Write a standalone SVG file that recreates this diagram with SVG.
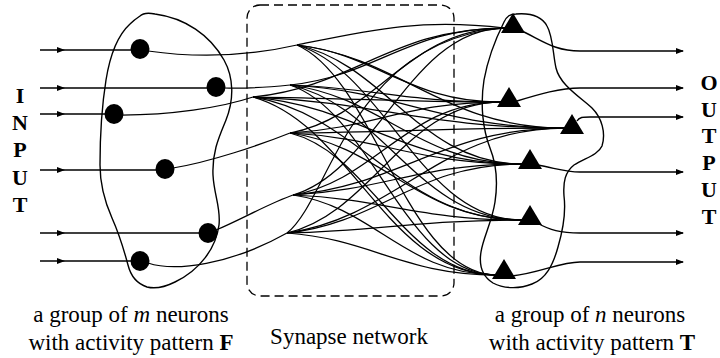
<svg xmlns="http://www.w3.org/2000/svg" width="720" height="358" viewBox="0 0 720 358">
  <defs>
    <marker id="arrow" markerWidth="8" markerHeight="6" refX="7" refY="3" orient="auto" markerUnits="userSpaceOnUse">
      <path d="M0,0 L8,3 L0,6 Z" fill="#000"/>
    </marker>
    <style>
      .ln { fill: none; stroke: #000; stroke-width: 1.4; }
      .syn path { fill: none; stroke: #000; stroke-width: 1.25; }
      .blob { fill: none; stroke: #000; stroke-width: 1.4; }
      .box { fill: none; stroke: #000; stroke-width: 1.3; stroke-dasharray: 9 5; }
      .neuron { fill: #000; }
      .letter { font-family: "Liberation Serif", "Times New Roman", serif; font-weight: bold; font-size: 22px; text-anchor: middle; }
      .label { font-family: "Liberation Serif", "Times New Roman", serif; font-size: 23px; text-anchor: middle; }
    </style>
  </defs>

  <!-- enclosures -->
  <g id="input-group">
    <path class="blob" d="M140,16 C143,13 150,13 155,14 C185,18 210,35 224,60 C234,78 234,100 226,120 C219,137 212,152 213,175 C214,195 221,208 219,225 C216,248 200,270 175,282 C165,287 155,289 147,287 C138,284 131,277 128,265 C124,250 120,236 112,218 C104,200 100,185 100,165 C100,135 102,105 106,80 C110,55 118,35 130,24 C134,20 137,18 140,16 Z"/>
  </g>
  <g id="synapse-network-box">
    <rect class="box" x="247" y="5" width="207" height="291" rx="13" ry="13"/>
  </g>
  <g id="output-group">
    <path class="blob" d="M504,22 C507,16 510,14 516,14 C528,13 541,15 547,26 C553,36 553,55 556,68 C560,85 580,97 592,108 C602,118 606,133 602,146 C598,155 585,158 574,165 C565,172 563,182 564,196 C566,212 563,230 558,247 C553,265 546,279 532,284 C520,289 504,289 493,283 C482,276 479,264 481,252 C483,238 492,222 495,202 C498,182 496,163 490,148 C483,130 480,105 484,80 C488,58 495,40 504,22 Z"/>
  </g>

  <!-- input lines -->
  <g id="inputs">
    <path class="ln" marker-mid="url(#arrow)" d="M40,50 L64,50 L140,50"/>
    <path class="ln" marker-mid="url(#arrow)" d="M40,88 L64,88 L216,88"/>
    <path class="ln" marker-mid="url(#arrow)" d="M40,114 L64,114 L114,114"/>
    <path class="ln" marker-mid="url(#arrow)" d="M40,170 L64,170 L165,170"/>
    <path class="ln" marker-mid="url(#arrow)" d="M40,233 L64,233 L208,233"/>
    <path class="ln" marker-mid="url(#arrow)" d="M40,261 L64,261 L140,261"/>
  </g>

  <!-- synapse connectors: axon into the box, then a fan to every output neuron -->
  <g id="connectors" class="syn">
    <path d="M148,51 C190,57 240,58 297,45"/>
    <path d="M224,88 C250,89 270,87 290,85"/>
    <path d="M122,115 C170,115 220,108 253,97"/>
    <path d="M173,168 C210,162 260,145 290,133"/>
    <path d="M216,230 C240,220 270,203 293,195"/>
    <path d="M148,263 C175,272 230,265 287,233"/>

    <path d="M297,45 C370,30 420,18 505,28"/>
    <path d="M297,45 C377,54 408,102 501,102"/>
    <path d="M297,45 C403,58 443,128 565,128"/>
    <path d="M297,45 C386,64 420,164 522,164"/>
    <path d="M297,45 C386,72 420,220 522,220"/>
    <path d="M297,45 C376,80 406,275 497,275"/>

    <path d="M290,85 C376,76 408,28 505,28"/>
    <path d="M290,85 C374,88 406,102 501,102"/>
    <path d="M290,85 C400,91 441,128 565,128"/>
    <path d="M290,85 C383,97 418,164 522,164"/>
    <path d="M290,85 C383,105 418,220 522,220"/>
    <path d="M290,85 C373,113 404,275 497,275"/>

    <path d="M253,97 C354,87 392,28 505,28"/>
    <path d="M253,97 C352,98 389,102 501,102"/>
    <path d="M253,97 C378,102 425,128 565,128"/>
    <path d="M253,97 C361,107 401,164 522,164"/>
    <path d="M253,97 C361,115 401,220 522,220"/>
    <path d="M253,97 C351,124 387,275 497,275"/>

    <path d="M290,133 C376,117 408,28 505,28"/>
    <path d="M290,133 C374,128 406,102 501,102"/>
    <path d="M290,133 C400,132 441,128 565,128"/>
    <path d="M290,133 C383,138 418,164 522,164"/>
    <path d="M290,133 C383,146 418,220 522,220"/>
    <path d="M290,133 C373,154 404,275 497,275"/>

    <path d="M293,195 C378,170 410,28 505,28"/>
    <path d="M293,195 C376,181 407,102 501,102"/>
    <path d="M293,195 C402,185 443,128 565,128"/>
    <path d="M293,195 C385,190 419,164 522,164"/>
    <path d="M293,195 C385,199 419,220 522,220"/>
    <path d="M293,195 C375,207 405,275 497,275"/>

    <path d="M287,233 C330,200 350,40 505,28"/>
    <path d="M287,233 C373,213 405,102 501,102"/>
    <path d="M287,233 C398,217 440,128 565,128"/>
    <path d="M287,233 C381,223 416,164 522,164"/>
    <path d="M287,233 C381,231 416,220 522,220"/>
    <path d="M287,233 C371,239 403,275 497,275"/>
  </g>

  <!-- output lines -->
  <g id="outputs">
    <path class="ln" marker-end="url(#arrow)" d="M520,30 C545,42 555,51 580,51 L683,51"/>
    <path class="ln" marker-end="url(#arrow)" d="M517,101 C540,94 560,88 580,88 L683,88"/>
    <path class="ln" marker-end="url(#arrow)" d="M577,121 C579,117 583,117 590,117 L683,117"/>
    <path class="ln" marker-end="url(#arrow)" d="M537,165 C555,168 565,172 580,172 L683,172"/>
    <path class="ln" marker-end="url(#arrow)" d="M537,223 C550,230 560,233 580,233 L683,233"/>
    <path class="ln" marker-end="url(#arrow)" d="M512,276 C540,273 560,262 580,262 L683,262"/>
  </g>

  <!-- input neurons -->
  <g id="f1"><ellipse class="neuron" cx="140" cy="49" rx="9.5" ry="10"/></g>
  <g id="f2"><ellipse class="neuron" cx="216" cy="87" rx="9.5" ry="10"/></g>
  <g id="f3"><ellipse class="neuron" cx="114" cy="114" rx="9.5" ry="10"/></g>
  <g id="f4"><ellipse class="neuron" cx="165" cy="169" rx="9.5" ry="10"/></g>
  <g id="f5"><ellipse class="neuron" cx="208" cy="233" rx="9.5" ry="10"/></g>
  <g id="f6"><ellipse class="neuron" cx="140" cy="261" rx="9.5" ry="10"/></g>

  <!-- output neurons -->
  <g id="t1"><polygon class="neuron" points="513,13 525,33 501,33"/></g>
  <g id="t2"><polygon class="neuron" points="509,87 521,107 497,107"/></g>
  <g id="t3"><polygon class="neuron" points="572,114 584,134 560,134"/></g>
  <g id="t4"><polygon class="neuron" points="530,149 542,169 518,169"/></g>
  <g id="t5"><polygon class="neuron" points="530,205 542,225 518,225"/></g>
  <g id="t6"><polygon class="neuron" points="504,259 516,279 492,279"/></g>

  <!-- side captions -->
  <g id="input-caption">
    <text class="letter" x="20" y="103">I</text>
    <text class="letter" x="20" y="130">N</text>
    <text class="letter" x="20" y="157">P</text>
    <text class="letter" x="20" y="185">U</text>
    <text class="letter" x="20" y="212">T</text>
  </g>
  <g id="output-caption">
    <text class="letter" x="709" y="90">O</text>
    <text class="letter" x="709" y="117">U</text>
    <text class="letter" x="709" y="143">T</text>
    <text class="letter" x="709" y="170">P</text>
    <text class="letter" x="709" y="197">U</text>
    <text class="letter" x="709" y="224">T</text>
  </g>

  <!-- bottom labels -->
  <g id="labels">
    <text class="label" x="131" y="322">a group of <tspan font-style="italic">m</tspan> neurons</text>
    <text class="label" x="131" y="350">with activity pattern <tspan font-weight="bold">F</tspan></text>
    <text class="label" x="349" y="344">Synapse network</text>
    <text class="label" x="590" y="322">a group of <tspan font-style="italic">n</tspan> neurons</text>
    <text class="label" x="592" y="350">with activity pattern <tspan font-weight="bold">T</tspan></text>
  </g>
</svg>
